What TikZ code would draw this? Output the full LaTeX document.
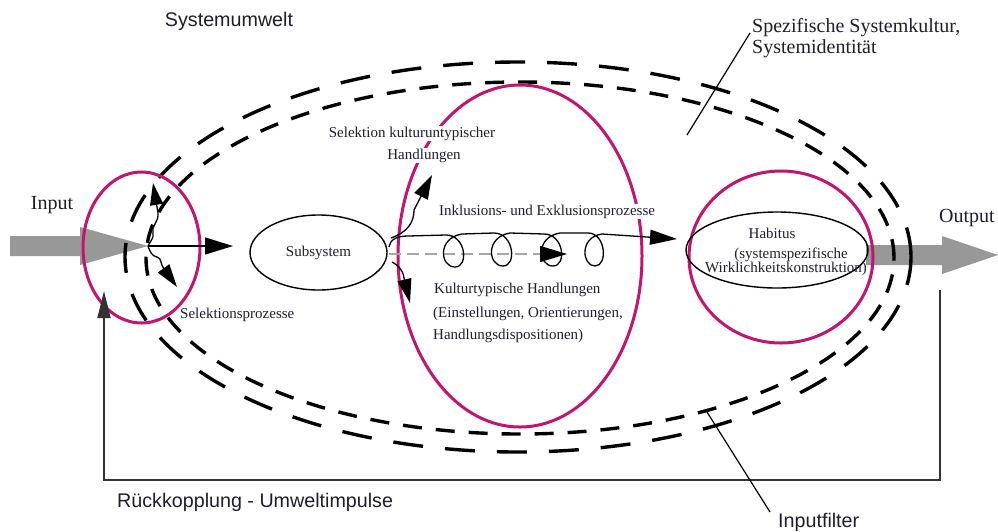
\documentclass[tikz,border=0pt]{standalone}
\usepackage{fontspec}
\setmainfont{Liberation Serif}
\newfontfamily\sansf{Liberation Sans}
\usetikzlibrary{arrows.meta,shapes.geometric}
\definecolor{mag}{RGB}{196,20,110}
\definecolor{bigarr}{RGB}{152,152,152}
\definecolor{txt}{RGB}{30,30,45}
\begin{document}
\begin{tikzpicture}[x=1pt,y=-1pt,
  magell/.style={ellipse, draw=mag, line width=3pt, inner sep=0pt},
  blkell/.style={ellipse, draw=black, line width=1.4pt, inner sep=0pt},
  outerdash/.style={line width=3.4pt, dash pattern=on 30pt off 22pt},
  innerdash/.style={line width=3.4pt, dash pattern=on 19pt off 14pt},
  thin line/.style={line width=1.3pt},
  thinarr/.style={line width=1.3pt, -{Triangle[length=27pt,width=15pt]}},
  bigtxt/.style={font=\fontsize{20}{22}\selectfont, text=txt, inner sep=0pt},
  smltxt/.style={font=\fontsize{15}{17}\selectfont, text=txt, inner sep=0pt},
  sanstxt/.style={font=\sansf\fontsize{19.7}{22}\selectfont, text=txt, inner sep=0pt},
  masktxt/.style={smltxt, fill=white, inner sep=1pt},
  pointer/.style={line width=1.2pt},
  fb/.style={line width=1.8pt, draw=black!80}
]
\useasboundingbox (0,0) rectangle (998,531);
\fill[white] (0,0) rectangle (998,531);

% big grey input / output arrows
\fill[bigarr] (10,236) -- (80,236) -- (80,227) -- (148,246) -- (80,265) -- (80,256) -- (10,256) -- cycle;
\fill[bigarr] (866,245) -- (942,245) -- (942,236) -- (998,255) -- (942,274) -- (942,265) -- (866,265) -- cycle;

% dashed input filters
\draw[outerdash] (518,257) ellipse [x radius=393pt, y radius=195pt];
\draw[innerdash] (520,258) ellipse [x radius=374pt, y radius=176pt];

% magenta ellipses
\node[magell, minimum width=117pt, minimum height=151pt] (lm) at (141.5,247.5) {};
\node[magell, minimum width=244pt, minimum height=342pt] (mm) at (520,256) {};
\node[magell, minimum width=184pt, minimum height=172pt] (rm) at (781,257) {};

% black ellipses
\node[blkell, smltxt, minimum width=137pt, minimum height=75pt] (sub) at (318.5,252.5) {Subsystem};
\node[blkell, minimum width=182pt, minimum height=76pt] (hab) at (777,250) {};

% texts
\node[sanstxt, anchor=base] (sysum) at (229,26) {Systemumwelt};
\node[bigtxt, anchor=base west] (spez1) at (752,32) {Spezifische Systemkultur,};
\node[bigtxt, anchor=base west] (spez2) at (752,53) {Systemidentität};
\node[bigtxt, anchor=base] (input) at (52,209) {Input};
\node[bigtxt, anchor=base] (output) at (967,222) {Output};
\node[smltxt, anchor=base west] (selp) at (180,318) {Selektionsprozesse};
\node[masktxt, anchor=base] (selk1) at (412,137) {Selektion kulturuntypischer};
\node[masktxt, anchor=base] (selk2) at (424,159) {Handlungen};
\node[masktxt, anchor=base west] (inkl) at (438,215) {Inklusions- und Exklusionsprozesse};
\node[smltxt, anchor=base west] (kt1) at (434,293) {Kulturtypische Handlungen};
\node[smltxt, anchor=base west] (kt2) at (433,317) {(Einstellungen, Orientierungen,};
\node[smltxt, anchor=base west] (kt3) at (433,339) {Handlungsdispositionen)};
\node[smltxt, anchor=base] (hab1) at (772,238) {Habitus};
\node[smltxt, anchor=base] (hab2) at (791,258) {(systemspezifische};
\node[smltxt, anchor=base] (hab3) at (786,272) {Wirklichkeitskonstruktion)};
\node[sanstxt, anchor=base west] (rueck) at (117,507) {Rückkopplung - Umweltimpulse};
\node[sanstxt, anchor=base west] (inpf) at (778,527) {Inputfilter};

% coordinates for connector ends
\coordinate (inTip) at (148,246);
\coordinate (subIn) at (233,246);
\coordinate (upTip) at (153,183);
\coordinate (downTip) at (177,287);
\coordinate (subOutUp) at (391,238);
\coordinate (selTip) at (432,175);
\coordinate (subOutDown) at (392,262);
\coordinate (ktTip) at (410,303);
\coordinate (subOutMid) at (389,254);
\coordinate (grayTip) at (567,254);
\coordinate (subOutLoop) at (389,247);
\coordinate (habIn) at (677,239);
\coordinate (fbR) at (940,290);
\coordinate (fbBR) at (940,480);
\coordinate (fbBL) at (104,480);
\coordinate (fbTip) at (104,291);
\coordinate (spezA) at (750,33);
\coordinate (spezB) at (687,135);
\coordinate (inpfA) at (770,512);
\coordinate (inpfB) at (707,412);

% connectors
\draw[line width=1.3pt, -{Triangle[length=28pt,width=17pt]}] (inTip) -- (subIn);
\draw[line width=1.3pt, -{Triangle[length=22pt,width=13pt]}] (inTip) .. controls (151,240) and (154,238) .. (153,233) .. controls (151,226) and (159,222) .. (158,213) -- (upTip);
\draw[line width=1.3pt, -{Triangle[length=23pt,width=14pt]}] (inTip) .. controls (150,252) and (152,256) .. (157,257) .. controls (162,258) and (160,264) .. (164,269) -- (downTip);

\draw[line width=1.3pt, -{Triangle[length=24pt,width=15pt]}] (subOutUp) .. controls (408,232) and (414,222) .. (414,210) -- (selTip);
\draw[line width=1.3pt, -{Triangle[length=24pt,width=14pt]}] (subOutDown) .. controls (398,265) and (403,270) .. (404,278) -- (ktTip);
\draw[line width=1.3pt, draw=black!35, dash pattern=on 12pt off 6pt, -{Triangle[length=27pt,width=16pt,color=black]}] (subOutMid) -- (grayTip);
\draw[line width=1.3pt, -{Triangle[length=27pt,width=15pt]}] (subOutLoop)
  .. controls (390,240) and (396,236) .. (408,236)
  -- (446,235) .. controls (466,235) and (469,267) .. (455,267) .. controls (440,267) and (437,238) .. (462,234)
  -- (494,233) .. controls (514,233) and (517,266) .. (503,266) .. controls (488,266) and (485,237) .. (510,233)
  -- (544,234) .. controls (564,234) and (567,266) .. (553,266) .. controls (538,266) and (535,237) .. (560,233)
  -- (588,233) .. controls (606,233) and (608,266) .. (595,266) .. controls (582,266) and (579,237) .. (602,234)
  -- (habIn);

\draw[fb, -{Triangle[length=27pt,width=13pt]}] (fbR) -- (fbBR) -- (fbBL) -- (fbTip);
\draw[pointer] (spezA) -- (spezB);
\draw[pointer] (inpfA) -- (inpfB);
\end{tikzpicture}
\end{document}
